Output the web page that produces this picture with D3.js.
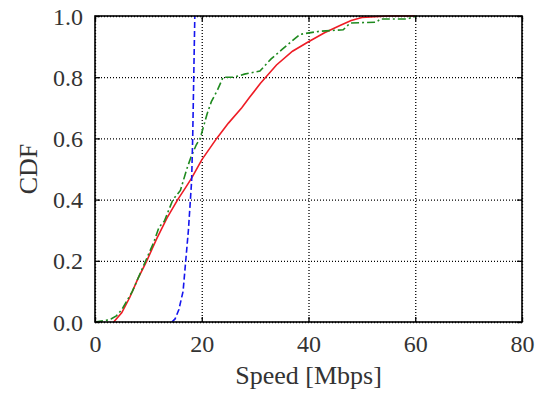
<!DOCTYPE html>
<html>
<head>
<meta charset="utf-8">
<script src="https://cdn.jsdelivr.net/npm/d3@7"></script>
<style>
body { margin: 0; background: #fff; }
.grid line { stroke: #000; stroke-width: 1; stroke-dasharray: 1,2; }
.grid path { display: none; }
.tick text { font-family: "Liberation Serif", serif; font-size: 24px; fill: #333; }
.line { fill: none; stroke-width: 1.6; }
</style>
</head>
<body>
<script>
// x / y tick values
var xTicks = [0, 20, 40, 60, 80];
var yTicks = [0.0, 0.2, 0.4, 0.6, 0.8, 1.0];

// red solid series
var redSpeed = [3.5, 5, 6.5, 8, 9.7, 11.5, 13.5, 15.5, 17, 18.1, 20, 22.8, 25, 27.5, 29, 31, 34, 37, 40, 43, 46, 48, 50, 55, 60];
var redCdf = [0, 0.03, 0.08, 0.14, 0.2, 0.27, 0.34, 0.4, 0.44, 0.47, 0.53, 0.6, 0.65, 0.7, 0.735, 0.78, 0.84, 0.885, 0.916, 0.945, 0.97, 0.985, 0.995, 1.0, 1.0];

// green dash-dot series
var greenSpeed = [0, 2, 3, 4, 5, 6, 7, 8, 9.5, 11, 12, 13, 14.6, 16, 17.2, 18, 19, 19.7, 21, 21.8, 23, 24, 26, 28, 30.9, 33, 35, 38.4, 42, 46.5, 47.8, 52.8, 53.4, 58.4, 60.3];
var greenCdf = [0, 0.005, 0.01, 0.02, 0.04, 0.07, 0.1, 0.14, 0.2, 0.26, 0.31, 0.33, 0.4, 0.43, 0.5, 0.54, 0.58, 0.6, 0.68, 0.72, 0.76, 0.8, 0.8, 0.81, 0.82, 0.86, 0.89, 0.94, 0.95, 0.955, 0.977, 0.98, 0.99, 0.99, 1.0];

// blue dashed series
var blueSpeed = [14.4, 15, 15.7, 16.5, 17, 17.5, 18.1, 18.3, 18.5, 18.7];
var blueCdf = [0, 0.01, 0.04, 0.1, 0.2, 0.3, 0.46, 0.6, 0.8, 1.0];

var margin = {top: 16, right: 16, bottom: 72, left: 95},
    width = 538 - margin.left - margin.right,
    height = 394 - margin.top - margin.bottom;

var x = d3.scaleLinear().domain([0, 80]).range([0, width]);
var y = d3.scaleLinear().domain([0, 1]).range([height, 0]);

var svg = d3.select("body").append("svg")
    .attr("width", 538)
    .attr("height", 394)
    .append("g")
    .attr("transform", "translate(" + margin.left + "," + margin.top + ")");

// gridlines
svg.append("g")
    .attr("class", "grid")
    .attr("transform", "translate(0," + height + ")")
    .call(d3.axisBottom(x).tickValues(xTicks).tickSize(-height).tickFormat(""));
svg.append("g")
    .attr("class", "grid")
    .call(d3.axisLeft(y).tickValues(yTicks).tickSize(-width).tickFormat(""));

function series(xs, ys) {
    return xs.map(function (v, i) { return [v, ys[i]]; });
}
var line = d3.line()
    .x(function (d) { return x(d[0]); })
    .y(function (d) { return y(d[1]); });

svg.append("path")
    .datum(series(redSpeed, redCdf))
    .attr("class", "line")
    .style("stroke", "#ee1c25")
    .attr("d", line);

svg.append("path")
    .datum(series(greenSpeed, greenCdf))
    .attr("class", "line")
    .style("stroke", "#1f8a1f")
    .style("stroke-dasharray", "8,3,2,3")
    .attr("d", line);

svg.append("path")
    .datum(series(blueSpeed, blueCdf))
    .attr("class", "line")
    .style("stroke", "#1515ee")
    .style("stroke-dasharray", "6,3")
    .attr("d", line);

// axes with inward ticks
var xAxis = svg.append("g")
    .attr("transform", "translate(0," + height + ")")
    .call(d3.axisBottom(x).tickValues(xTicks).tickSize(-5).tickPadding(13).tickFormat(d3.format("d")));
var yAxis = svg.append("g")
    .call(d3.axisLeft(y).tickValues(yTicks).tickSize(-5).tickPadding(12).tickFormat(d3.format(".1f")));
svg.append("g")
    .call(d3.axisTop(x).tickValues(xTicks).tickSize(-5).tickFormat(""));
svg.append("g")
    .attr("transform", "translate(" + width + ",0)")
    .call(d3.axisRight(y).tickValues(yTicks).tickSize(-5).tickFormat(""));

svg.selectAll(".domain").style("display", "none");
svg.selectAll(".tick line").style("stroke", "#000").style("stroke-width", 1.3);
xAxis.selectAll("text").attr("dy", "0.71em");
yAxis.selectAll("text").attr("dy", "0.34em");

// frame
svg.append("rect")
    .attr("width", width)
    .attr("height", height)
    .style("fill", "none")
    .style("stroke", "#000")
    .style("stroke-width", 1.6);

// axis labels
svg.append("text")
    .attr("x", width / 2)
    .attr("y", height + 62)
    .attr("text-anchor", "middle")
    .style("font-family", "Liberation Serif, serif")
    .style("font-size", "26px")
    .style("fill", "#333")
    .text("Speed [Mbps]");

svg.append("text")
    .attr("transform", "rotate(-90)")
    .attr("x", -height / 2)
    .attr("y", -58)
    .attr("text-anchor", "middle")
    .style("font-family", "Liberation Serif, serif")
    .style("font-size", "26px")
    .style("fill", "#333")
    .text("CDF");
</script>
</body>
</html>
